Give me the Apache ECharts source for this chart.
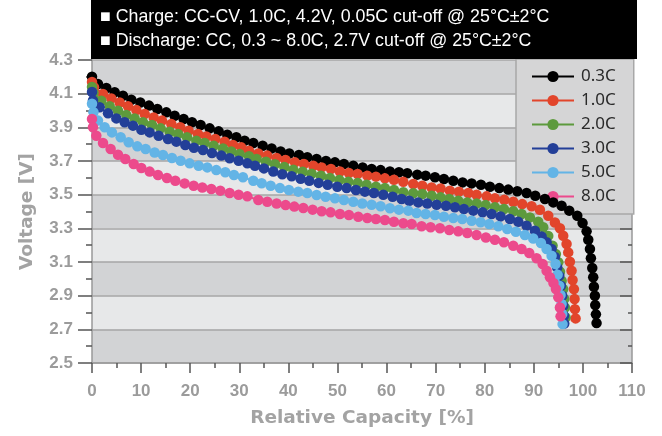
<!DOCTYPE html>
<html><head><meta charset="utf-8">
<script src="https://cdn.jsdelivr.net/npm/echarts@6/dist/echarts.min.js"></script>
<style>html,body{margin:0;padding:0;background:#fff;}#c{width:662px;height:436px;}</style>
</head><body><div id="c"></div>
<script>
const headerLines = ['\u25A0 Charge: CC-CV, 1.0C, 4.2V, 0.05C cut-off @ 25\u00B0C\u00B12\u00B0C', '\u25A0 Discharge: CC, 0.3 ~ 8.0C, 2.7V cut-off @ 25\u00B0C\u00B12\u00B0C'];
const seriesNames = ['0.3C', '1.0C', '2.0C', '3.0C', '5.0C', '8.0C'];
const seriesColors = ['#000000', '#e2452b', '#5d9a3d', '#233f98', '#63b4e6', '#ec4a8c'];
const xTitle = 'Relative Capacity [%]';
const yTitle = 'Voltage [V]';

const c03 = [[0,4.20],[1.22,4.157],[2.92,4.134],[4.62,4.108],[6.31,4.088],[8.01,4.064],[9.84,4.048],[11.61,4.029],[13.31,4.009],[15.14,3.989],[16.84,3.969],[18.67,3.949],[20.37,3.930],[22.13,3.914],[23.97,3.894],[25.80,3.876],[27.56,3.856],[29.40,3.841],[31.09,3.821],
[32.86,3.807],[34.76,3.791],[36.59,3.775],[38.43,3.757],[40.19,3.745],[42.16,3.736],[43.86,3.722],[45.76,3.712],[47.66,3.700],[49.49,3.692],[51.32,3.682],[53.22,3.672],[55.13,3.662],[56.96,3.652],[58.79,3.646],[60.69,3.638],[62.53,3.633],[64.22,3.627],
[66.26,3.619],[67.96,3.613],[69.86,3.603],[71.69,3.593],[73.59,3.583],[75.49,3.573],[77.33,3.567],[79.23,3.559],[81.06,3.547],[82.96,3.539],[84.79,3.530],[86.63,3.520],[88.53,3.510],[90.29,3.494],[92.26,3.474],[93.96,3.454],
[95.66,3.434],[97.22,3.405],[98.85,3.375],[99.93,3.331],[100.75,3.282],[101.09,3.232],[101.43,3.177],[101.63,3.122],[101.90,3.064],[102.10,3.009],[102.24,2.953],[102.44,2.900],[102.51,2.844],[102.65,2.789],[102.78,2.737]];
const c10 = [[0,4.17],[0.41,4.138],[2.24,4.098],[3.94,4.072],[5.64,4.048],[7.33,4.025],[9.03,4.003],[10.73,3.979],[12.56,3.959],[14.26,3.940],[16.16,3.920],[17.99,3.900],[19.69,3.880],[21.59,3.860],[23.29,3.846],[25.12,3.831],[27.02,3.815],[28.72,3.795],[30.41,3.781],[31.98,3.761],
[33.88,3.745],[35.71,3.732],[37.61,3.718],[39.44,3.706],[41.34,3.692],[43.18,3.682],[45.08,3.672],[46.78,3.662],[48.68,3.652],[50.51,3.638],[52.34,3.629],[54.11,3.623],[56.08,3.613],[57.84,3.607],[59.67,3.597],[61.51,3.589],[63.41,3.577],
[65.44,3.563],[67.28,3.553],[69.18,3.543],[71.01,3.537],[72.91,3.524],[74.75,3.518],[76.65,3.510],[78.34,3.500],[80.38,3.490],[82.08,3.478],[83.98,3.470],[85.81,3.458],[87.64,3.444],[89.55,3.431],[91.24,3.410],[92.94,3.375],
[94.30,3.335],[95.32,3.300],[95.99,3.256],[96.67,3.207],[97.01,3.157],[97.35,3.102],[97.69,3.048],[97.90,2.993],[98.17,2.939],[98.30,2.880],[98.37,2.820],[98.51,2.765]];
const c20 = [[0,4.14],[0.3,4.105],[1.90,4.058],[3.60,4.025],[5.30,3.999],[6.99,3.973],[8.69,3.953],[10.39,3.930],[12.22,3.914],[13.99,3.894],[15.82,3.874],[17.52,3.860],[19.35,3.841],[21.25,3.821],[22.95,3.807],[24.78,3.791],[26.68,3.775],[28.38,3.757],[30.08,3.741],[31.98,3.728],
[33.54,3.712],[35.44,3.696],[37.27,3.681],[39.17,3.664],[41.00,3.648],[42.91,3.636],[44.74,3.624],[46.64,3.612],[48.47,3.599],[50.37,3.587],[52.21,3.577],[54.11,3.569],[55.94,3.559],[57.84,3.547],[59.67,3.539],[61.51,3.528],[63.41,3.514],
[65.44,3.508],[67.28,3.504],[69.18,3.494],[71.01,3.484],[72.78,3.474],[74.61,3.464],[76.45,3.454],[78.34,3.448],[80.18,3.438],[82.08,3.425],[83.91,3.415],[85.81,3.401],[87.51,3.385],[89.21,3.365],[90.90,3.339],[91.92,3.306],[92.94,3.255],
[93.82,3.197],[94.50,3.147],[94.98,3.098],[95.32,3.042],[95.66,2.989],[95.99,2.939],[96.20,2.880],[96.33,2.830],[96.47,2.771]];
const c30 = [[0,4.11],[0.2,4.06],[1.56,4.019],[3.26,3.983],[4.96,3.953],[6.65,3.930],[8.35,3.910],[10.05,3.886],[11.75,3.870],[13.58,3.850],[15.48,3.831],[17.18,3.815],[19.01,3.795],[20.77,3.779],[22.61,3.765],[24.44,3.747],[26.34,3.732],[28.04,3.716],[29.87,3.702],[31.64,3.686],
[33.20,3.672],[35.03,3.656],[36.93,3.638],[38.76,3.621],[40.67,3.609],[42.50,3.594],[44.26,3.582],[46.16,3.570],[48.00,3.559],[49.97,3.547],[51.87,3.539],[53.77,3.528],[55.60,3.518],[57.43,3.510],[59.33,3.500],[61.24,3.488],[63.07,3.474],[64.63,3.464],
[66.46,3.454],[68.30,3.448],[70.20,3.440],[72.10,3.434],[73.93,3.425],[75.76,3.415],[77.66,3.405],[79.57,3.395],[81.40,3.385],[83.23,3.371],[85.13,3.355],[86.83,3.339],[88.53,3.316],[90.22,3.286],[91.58,3.252],[92.60,3.217],[93.62,3.177],[94.30,3.130],[94.77,3.068],[95.18,3.019],[95.52,2.959],[95.79,2.900],[95.99,2.840],[96.13,2.781],[96.20,2.735]];
const c50 = [[0,4.04],[0.3,3.99],[1.22,3.940],[2.58,3.900],[4.07,3.870],[5.84,3.841],[7.47,3.811],[9.23,3.787],[10.93,3.771],[12.76,3.751],[14.46,3.736],[16.29,3.718],[18.06,3.702],[19.89,3.686],[21.72,3.672],[23.49,3.662],[25.32,3.646],[27.15,3.633],[28.92,3.617],[30.75,3.603],
[32.86,3.583],[34.56,3.568],[36.39,3.553],[38.29,3.539],[40.12,3.528],[42.02,3.518],[43.86,3.510],[45.76,3.498],[47.59,3.488],[49.49,3.478],[51.32,3.468],[53.22,3.458],[55.06,3.448],[56.96,3.440],[58.79,3.431],[60.69,3.419],[62.53,3.411],[64.43,3.405],
[66.12,3.391],[67.96,3.385],[69.86,3.379],[71.69,3.369],[73.59,3.361],[75.42,3.355],[77.33,3.345],[79.16,3.336],[80.92,3.326],[82.76,3.312],[84.59,3.296],[86.35,3.280],[88.19,3.260],[89.88,3.240],[91.45,3.213],[92.60,3.177],[93.62,3.137],[94.43,3.088],[94.85,3.025],[95.18,2.959],[95.45,2.904],[95.66,2.850],[95.79,2.791],[95.86,2.731]];
const c80 = [[0,3.95],[0.2,3.90],[0.88,3.850],[2.24,3.807],[3.80,3.771],[5.30,3.737],[6.79,3.712],[8.49,3.682],[10.05,3.658],[11.75,3.637],[13.44,3.617],[15.27,3.599],[16.97,3.583],[18.87,3.567],[20.71,3.553],[22.47,3.543],[24.30,3.534],[26.14,3.524],[28.04,3.510],[29.87,3.500],[31.64,3.490],
[33.88,3.468],[35.71,3.458],[37.61,3.448],[39.44,3.438],[41.21,3.429],[43.04,3.421],[44.94,3.411],[46.78,3.401],[48.61,3.395],[50.51,3.385],[52.34,3.379],[54.24,3.369],[56.08,3.361],[57.84,3.355],[59.67,3.349],[61.51,3.339],[63.41,3.330],
[65.11,3.326],[67.14,3.312],[68.98,3.306],[70.88,3.300],[72.78,3.290],[74.61,3.282],[76.45,3.272],[78.34,3.260],[80.24,3.246],[82.08,3.232],[83.91,3.217],[85.81,3.197],[87.51,3.177],[89.07,3.153],[90.56,3.122],[91.79,3.088],[92.60,3.048],[93.28,3.009],[94.00,2.975],[94.50,2.939],[94.98,2.890],[95.32,2.830],[95.45,2.777]];
const seriesData = [c03, c10, c20, c30, c50, c80];

const chart = echarts.init(document.getElementById('c'), null, {renderer: 'canvas'});
const labelFont = {color: '#9b9b9b', fontSize: 17, fontWeight: 'bold', fontFamily: 'Liberation Sans'};
const nameFont = {color: '#a3a3a3', fontSize: 18.5, fontWeight: 'bold', fontFamily: 'DejaVu Sans'};
const tickStyle = {color: '#555', width: 1.5};

chart.setOption({
  animation: false,
  grid: {left: 92, right: 30, top: 60, bottom: 73},
  graphic: [
    {type: 'rect', shape: {x: 91, y: 0, width: 546, height: 59}, style: {fill: '#000'}, z: 10},
    {type: 'text', x: 100, y: 17, style: {text: headerLines[0], fill: '#fff', font: '17.8px "Liberation Sans"', textVerticalAlign: 'middle'}, z: 11},
    {type: 'text', x: 100, y: 41, style: {text: headerLines[1], fill: '#fff', font: '17.8px "Liberation Sans"', textVerticalAlign: 'middle'}, z: 11}
  ],
  legend: {
    orient: 'vertical', left: 516, top: 59,
    padding: [9, 18, 9, 15], itemGap: 7, itemWidth: 42, itemHeight: 14,
    backgroundColor: '#d5d5d6', borderColor: '#a8a8a8', borderWidth: 1.5, borderRadius: 0,
    textStyle: {color: '#2a2a2a', fontSize: 17, fontFamily: 'Noto Sans', lineHeight: 16, padding: [0, 0, 0, 2]},
    data: seriesNames
  },
  xAxis: {
    type: 'value', min: 0, max: 110, interval: 10,
    axisLine: {show: true, onZero: false, lineStyle: {color: '#999', width: 1.5}},
    axisTick: {show: true, length: 10, lineStyle: tickStyle},
    minorTick: {show: true, splitNumber: 2, length: 5, lineStyle: tickStyle},
    splitLine: {show: false},
    axisLabel: Object.assign({margin: 20}, labelFont),
    name: xTitle, nameLocation: 'middle', nameGap: 46, nameTextStyle: nameFont
  },
  yAxis: [{
    type: 'value', min: 2.5, max: 4.3, interval: 0.2,
    axisLine: {show: true, lineStyle: {color: '#999', width: 1.5}},
    axisTick: {show: true, length: 14, lineStyle: tickStyle},
    minorTick: {show: true, splitNumber: 2, length: 6, lineStyle: tickStyle},
    splitLine: {show: true, lineStyle: {color: '#a6a6a6', width: 1.5}},
    splitArea: {show: true, areaStyle: {color: ['#d2d3d5', '#e7e8e9']}},
    axisLabel: Object.assign({margin: 19, formatter: v => v.toFixed(1)}, labelFont),
    name: yTitle, nameLocation: 'middle', nameGap: 55, nameRotate: 90, nameTextStyle: nameFont
  }, {
    type: 'value', min: 2.5, max: 4.3, interval: 0.2, position: 'right',
    axisLine: {show: true, lineStyle: {color: '#999', width: 1.5}},
    axisTick: {show: true, inside: true, length: 12, lineStyle: tickStyle},
    minorTick: {show: true, splitNumber: 2, length: 4, lineStyle: tickStyle},
    splitLine: {show: false}, splitArea: {show: false},
    axisLabel: {show: false}
  }],
  series: seriesNames.map((n, i) => ({
    name: n, type: 'line', data: seriesData[i], z: 5 + i,
    symbol: 'circle', symbolSize: 10.5, showSymbol: true,
    itemStyle: {color: seriesColors[i]},
    lineStyle: {color: seriesColors[i], width: 2}
  }))
});
</script></body></html>
